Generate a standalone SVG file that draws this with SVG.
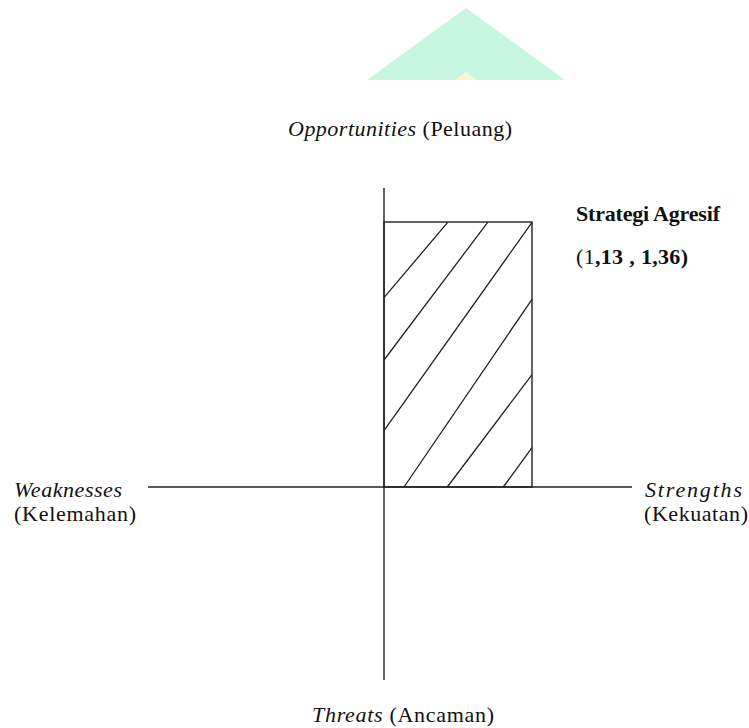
<svg xmlns="http://www.w3.org/2000/svg" width="749" height="728" viewBox="0 0 749 728">
<style>
text{font-family:"Liberation Serif","Times New Roman",serif;font-size:22px;fill:#111}
.i{font-style:italic}
.b{font-weight:bold}
.ax{stroke:#222;stroke-width:1.4;fill:none}
.h{stroke:#222;stroke-width:1.3;fill:none}
</style>
<rect width="749" height="728" fill="#fff"/>
<g id="watermark">
<polygon points="367,80 466,8 565,80" fill="#c6f6e0"/>
<polygon points="455,80 466,72 477,80" fill="#f4f9cf"/>
</g>
<g id="connectors">
<line class="ax" x1="384" y1="188" x2="384" y2="680"/>
<line class="ax" x1="148" y1="487" x2="632" y2="487"/>
</g>
<g id="quadrant">
<rect class="ax" x="384" y="222" width="148" height="265"/>
<line class="h" x1="447.7" y1="222.3" x2="384" y2="297.7"/>
<line class="h" x1="487.7" y1="222.3" x2="384" y2="360"/>
<line class="h" x1="532" y1="222.3" x2="384" y2="430.7"/>
<line class="h" x1="532" y1="299.3" x2="404" y2="487"/>
<line class="h" x1="532" y1="374.7" x2="447.3" y2="487"/>
<line class="h" x1="532" y1="447.7" x2="503.3" y2="487"/>
</g>
<g id="opportunities"><text x="288" y="136" textLength="224"><tspan class="i">Opportunities</tspan> (Peluang)</text></g>
<g id="threats"><text x="312" y="722" textLength="182"><tspan class="i">Threats</tspan> (Ancaman)</text></g>
<g id="weaknesses"><text x="14" y="497" class="i" textLength="108">Weaknesses</text><text x="14" y="521" textLength="122">(Kelemahan)</text></g>
<g id="strengths"><text x="645" y="497" class="i" textLength="97">Strengths</text><text x="644" y="521" textLength="104">(Kekuatan)</text></g>
<g id="strategi"><text x="576" y="221" class="b" textLength="144">Strategi Agresif</text><text x="576" y="264" textLength="112">(1<tspan class="b">,13 , 1,36)</tspan></text></g>
</svg>
